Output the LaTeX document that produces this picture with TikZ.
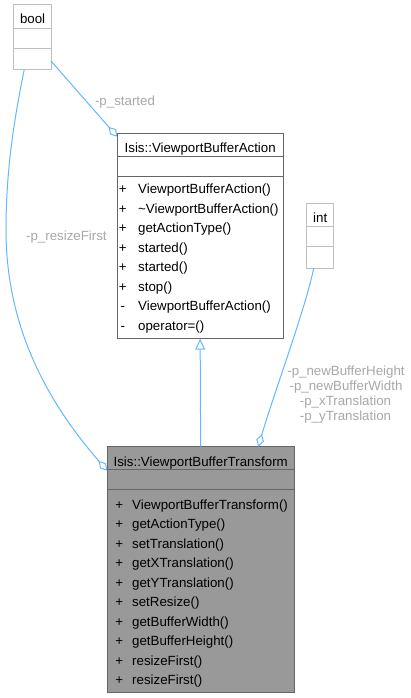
\documentclass[tikz,border=0pt]{standalone}
\usepackage{fontspec}
\setmainfont{Liberation Sans}
\usetikzlibrary{arrows.meta}
\definecolor{edgeblue}{HTML}{63B8FF}
\definecolor{lblgray}{HTML}{A8A8A8}
\definecolor{boxdark}{HTML}{666666}
\definecolor{boxlight}{HTML}{BFBFBF}
\definecolor{fillgray}{HTML}{999999}
\begin{document}
\begin{tikzpicture}[x=1pt,y=-1pt,
  font=\fontsize{13.3}{15}\selectfont,
  classbox/.style={draw=boxdark, line width=1pt, fill=white, rectangle, inner sep=0pt, outer sep=0pt, anchor=north west},
  typebox/.style={classbox, draw=boxlight},
  curbox/.style={classbox, fill=fillgray},
  divdark/.style={draw=boxdark, line width=1pt},
  divlight/.style={draw=boxlight, line width=1pt},
  member/.style={anchor=base west, inner sep=0pt, text=black},
  sym/.style={anchor=base, inner sep=0pt, text=black},
  title/.style={anchor=base, inner sep=0pt, text=black},
  lbl/.style={anchor=base, inner sep=0pt, text=lblgray},
  edge/.style={draw=edgeblue, line width=1pt},
  agg/.style={edge, -{Diamond[open, length=13pt, width=8pt]}},
  inh/.style={edge, -{Triangle[open, length=11pt, width=10pt]}}
]
\fill[white] (0,0) rectangle (410,698);
\useasboundingbox (0,0) rectangle (410,698);

% bool
\node[typebox, minimum width=37.7pt, minimum height=65pt] (bool) at (13.3,5) {};
\draw[divlight] (13.3,28.3) -- (51,28.3);
\draw[divlight] (13.3,48.3) -- (51,48.3);
\node[title] (booltitle) at (32.6,24) {bool};

% int
\node[typebox, minimum width=27pt, minimum height=65pt] (int) at (306.7,203.3) {};
\draw[divlight] (306.7,226.7) -- (333.7,226.7);
\draw[divlight] (306.7,246.7) -- (333.7,246.7);
\node[title] (inttitle) at (320.2,222.3) {int};

% ViewportBufferAction
\node[classbox, minimum width=165.7pt, minimum height=205.4pt] (action) at (117.3,133.3) {};
\draw[divdark] (117.3,156.7) -- (283,156.7);
\draw[divdark] (117.3,176.7) -- (283,176.7);
\node[title] (actiontitle) at (200.2,152.3) {Isis::ViewportBufferAction};
\foreach \s/\m [count=\i from 0] in {+/ViewportBufferAction(), +/\textasciitilde ViewportBufferAction(), +/getActionType(), +/started(), +/started(), +/stop(), -/ViewportBufferAction(), -/operator=()}{
  \node[sym] (as\i) at (122.8,193.5+19.5*\i) {\s};
  \node[member] (am\i) at (138,193.5+19.5*\i) {\m};
}

% ViewportBufferTransform
\node[curbox, minimum width=186.7pt, minimum height=245.6pt] (transform) at (107.3,446.7) {};
\draw[divdark] (107.3,469.3) -- (294,469.3);
\draw[divdark] (107.3,489.3) -- (294,489.3);
\node[title] (transformtitle) at (200.7,466.7) {Isis::ViewportBufferTransform};
\foreach \s/\m [count=\i from 0] in {+/ViewportBufferTransform(), +/getActionType(), +/setTranslation(), +/getXTranslation(), +/getYTranslation(), +/setResize(), +/getBufferWidth(), +/getBufferHeight(), +/resizeFirst(), +/resizeFirst()}{
  \node[sym] (ts\i) at (119.2,509+19.5*\i) {\s};
  \node[member] (tm\i) at (132,509+19.5*\i) {\m};
}

% edges
\draw[agg] ([yshift=9pt]bool.south east) -- ([yshift=-3.4pt]action.north west);
\node[lbl] (lstarted) at (125,105.5) {-p\_started};

\draw[agg] ([xshift=-8pt]bool.south) .. controls (14,120) and (6,170) .. (6,230)
  .. controls (6,330) and (50,405) .. ([yshift=-24pt]transform.north west);
\node[lbl] (lresize) at (66.4,240) {-p\_resizeFirst};

\draw[inh] (transform.north) -- (action.south);

\draw[agg] ([xshift=-6.5pt]int.south) .. controls (305,310) and (275,390) .. ([xshift=57.6pt]transform.north);
\node[lbl] (lint1) at (346,375.5) {-p\_newBufferHeight};
\node[lbl] (lint2) at (346,390.4) {-p\_newBufferWidth};
\node[lbl] (lint3) at (345.5,405.3) {-p\_xTranslation};
\node[lbl] (lint4) at (345.5,420) {-p\_yTranslation};
\end{tikzpicture}
\end{document}
